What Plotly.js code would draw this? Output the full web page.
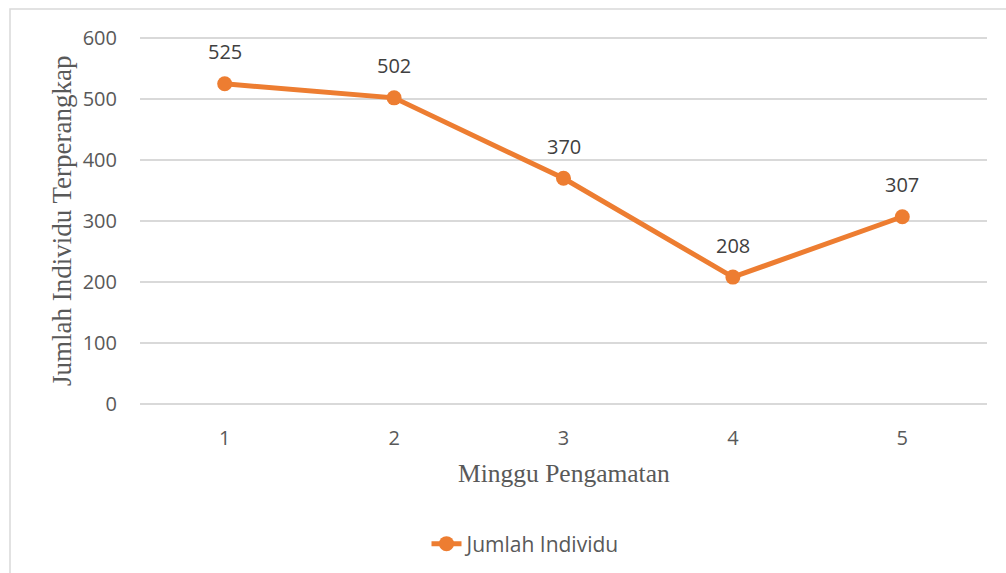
<!DOCTYPE html>
<html><head><meta charset="utf-8">
<script src="https://cdn.plot.ly/plotly-3.0.1.min.js"></script>
<style>html,body{margin:0;padding:0;background:#fff;}#c{width:1006px;height:573px;}</style>
</head><body><div id="c"></div>
<script>
var weeks = ['1','2','3','4','5'];
var counts = [525, 502, 370, 208, 307];
var seriesName = 'Jumlah Individu';
var xTitle = 'Minggu Pengamatan';
var yTitle = 'Jumlah Individu Terperangkap';
var yTicks = [0, 100, 200, 300, 400, 500, 600];

var L = 140, R = 19, T = 32, B = 163, W = 1006, H = 573;
var pw = W - L - R, ph = H - T - B;
var yMin = -10, yMax = 610;
function py(pix){ return (H - B - pix) / ph; } // pixel y -> paper y
function px(pix){ return (pix - L) / pw; }
var sans = 'Open Sans, Liberation Sans, sans-serif';
var serif = 'Liberation Serif, Times New Roman, serif';

var trace = {
  x: weeks, y: counts, type: 'scatter', mode: 'lines+markers', name: seriesName,
  line: {color: '#ED7D31', width: 5},
  marker: {color: '#ED7D31', size: 15},
  cliponaxis: false
};
var ann = weeks.map(function(w, i){
  return {x: i, y: counts[i], text: String(counts[i]), showarrow: false, yshift: 32,
    xanchor: 'center', yanchor: 'middle',
    font: {family: sans, size: 20, color: '#404040'}};
});
ann.push({xref:'paper', yref:'paper', x: px(62), y: py(221), text: yTitle, showarrow:false, textangle:-90,
  xanchor:'center', yanchor:'middle',
  font:{family: serif, size:27, color:'#595959'}});
ann.push({xref:'paper', yref:'paper', x: px(564), y: py(473), text: xTitle, showarrow:false,
  xanchor:'center', yanchor:'middle',
  font:{family: serif, size:25.5, color:'#595959'}});

var layout = {
  width: W, height: H,
  margin: {l: L, r: R, t: T, b: B, autoexpand: false},
  paper_bgcolor: '#fff', plot_bgcolor: '#fff',
  showlegend: true,
  legend: {orientation: 'h', x: px(526), xanchor: 'center', y: py(544), yanchor: 'middle',
    font: {family: sans, size: 21, color: '#595959'}},
  xaxis: {type: 'category', range: [-0.5, 4.5], showgrid: false, zeroline: false, showline: false,
    ticks: '', ticklabelstandoff: 14,
    tickfont: {family: sans, size: 20, color: '#595959'}},
  yaxis: {range: [yMin, yMax], tickvals: yTicks, showgrid: true, gridcolor: '#D9D9D9', gridwidth: 1.5,
    zeroline: false, showline: false, ticks: '', ticklabelstandoff: 22,
    tickfont: {family: sans, size: 20, color: '#595959'}},
  annotations: ann,
  shapes: [{type:'rect', xref:'paper', yref:'paper', x0:px(10), x1:px(1020), y0:py(590), y1:py(9),
    line:{color:'#D9D9D9', width:1.5}, fillcolor:'rgba(0,0,0,0)', layer:'below'}]
};
Plotly.newPlot('c', [trace], layout, {displayModeBar: false, staticPlot: true});
</script></body></html>
